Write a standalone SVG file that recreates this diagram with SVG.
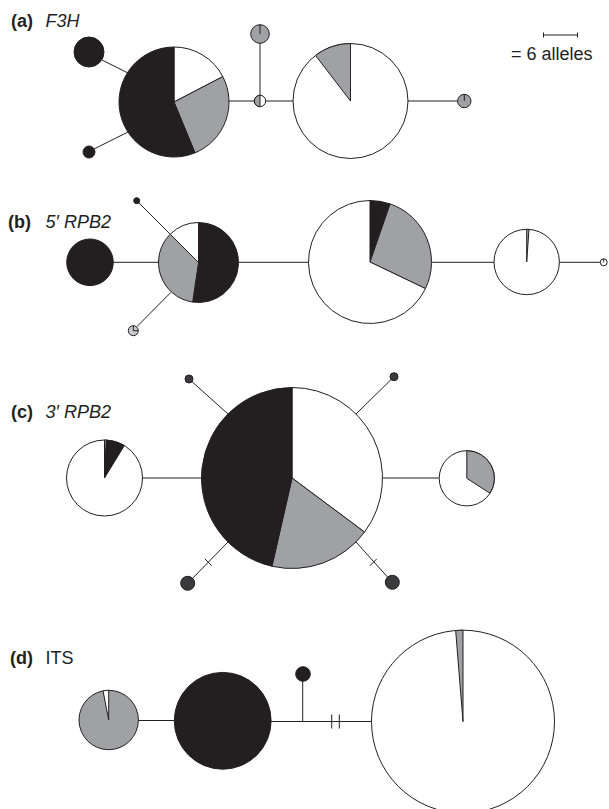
<svg xmlns="http://www.w3.org/2000/svg" width="609" height="809" viewBox="0 0 609 809">
<style>
.ln{stroke:#231f20;stroke-width:1;fill:none}
.w{fill:#ffffff;stroke:#231f20;stroke-width:1}
.k{fill:#231f20;stroke:#231f20;stroke-width:1}
.g{fill:#a0a1a4;stroke:#231f20;stroke-width:1}
.lg{fill:#c8c9cb;stroke:#231f20;stroke-width:1}
.dk{fill:#3a3a3c;stroke:#231f20;stroke-width:1}
.lab{font-family:"Liberation Sans",Arial,sans-serif;font-size:18px;fill:#231f20}
.b{font-weight:bold}
.i{font-style:italic}
</style>
<rect width="609" height="809" fill="#ffffff"/>
<g id="labels">
<text class="lab b" x="11" y="27">(a)</text><text class="lab i" x="45.5" y="27">F3H</text>
<text class="lab b" x="8" y="228">(b)</text><text class="lab i" x="45.5" y="228">5′ RPB2</text>
<text class="lab b" x="11" y="418">(c)</text><text class="lab i" x="45.5" y="418">3′ RPB2</text>
<text class="lab b" x="10" y="664">(d)</text><text class="lab" x="45.5" y="664">ITS</text>
</g>
<g id="scale">
<line class="ln" x1="543.5" y1="35" x2="577.5" y2="35" stroke-width="1.6"/>
<line class="ln" x1="543.5" y1="32.5" x2="543.5" y2="37.5"/>
<line class="ln" x1="577.5" y1="32.5" x2="577.5" y2="37.5"/>
<text class="lab" x="511" y="60">= 6 alleles</text>
</g>
<g id="connectors">
<!-- a -->
<line class="ln" x1="102" y1="60" x2="128" y2="73"/>
<line class="ln" x1="94" y1="149" x2="128" y2="132"/>
<line class="ln" x1="229" y1="101" x2="254.3" y2="101"/>
<line class="ln" x1="260" y1="95.3" x2="260" y2="43.3"/>
<line class="ln" x1="265.7" y1="101" x2="293" y2="101"/>
<line class="ln" x1="408" y1="101" x2="457.6" y2="101"/>
<!-- b -->
<line class="ln" x1="113.3" y1="262.3" x2="158.5" y2="262.3"/>
<line class="ln" x1="136.7" y1="200.7" x2="170.2" y2="234.2"/>
<line class="ln" x1="137" y1="326.5" x2="171" y2="292.3"/>
<line class="ln" x1="238.5" y1="262.3" x2="308.5" y2="262.3"/>
<line class="ln" x1="431.5" y1="262.3" x2="494" y2="262.3"/>
<line class="ln" x1="559.4" y1="262.3" x2="600.2" y2="262.3"/>
<!-- c -->
<line class="ln" x1="142.5" y1="478" x2="201.5" y2="478"/>
<line class="ln" x1="189" y1="379" x2="228" y2="414"/>
<line class="ln" x1="394" y1="376.7" x2="356" y2="414"/>
<line class="ln" x1="187.7" y1="583.3" x2="228" y2="542"/>
<line class="ln" x1="204.8" y1="558.8" x2="211.8" y2="565.8"/>
<line class="ln" x1="392.3" y1="582.3" x2="356" y2="542"/>
<line class="ln" x1="369.8" y1="565.8" x2="376.8" y2="558.8"/>
<line class="ln" x1="382.5" y1="478" x2="439.2" y2="478"/>
<!-- d -->
<line class="ln" x1="138.4" y1="720.5" x2="174.3" y2="720.5"/>
<line class="ln" x1="271.1" y1="721.5" x2="371.5" y2="721.5"/>
<line class="ln" x1="302.7" y1="721.5" x2="302.7" y2="676"/>
<line class="ln" x1="331.7" y1="714.5" x2="331.7" y2="728.5"/>
<line class="ln" x1="339.3" y1="714.5" x2="339.3" y2="728.5"/>
</g>
<!-- panel a nodes -->
<g id="a_blackTop"><circle class="k" cx="89" cy="52" r="15"/></g>
<g id="a_blackBottom"><circle class="k" cx="89" cy="152" r="6"/></g>
<g id="a_main">
<path class="w" d="M174,102 L174,47 A55,55 0 0 1 222.8,76.6 Z"/>
<path class="g" d="M174,102 L222.8,76.6 A55,55 0 0 1 194.96,152.85 Z"/>
<path class="k" d="M174,102 L194.96,152.85 A55,55 0 1 1 174,47 Z"/>
</g>
<g id="a_junction">
<circle class="w" cx="260" cy="101" r="5.7"/>
<path class="g" d="M260,101 L260,95.3 A5.7,5.7 0 0 0 260,106.7 Z"/>
</g>
<g id="a_grayTop"><circle class="g" cx="260" cy="34" r="9.3"/><line class="ln" x1="260" y1="34" x2="260" y2="24.7"/></g>
<g id="a_white">
<circle class="w" cx="350.5" cy="101" r="57.5"/>
<path class="g" d="M350.5,101 L315.5,55.4 A57.5,57.5 0 0 1 350.5,43.5 Z"/>
</g>
<g id="a_grayRight"><circle class="g" cx="464.3" cy="101" r="6.7"/><line class="ln" x1="464.3" y1="101" x2="464.3" y2="94.3"/></g>
<!-- panel b nodes -->
<g id="b_black"><circle class="k" cx="90" cy="262.3" r="23.3"/></g>
<g id="b_dotTop"><circle class="k" cx="136.7" cy="200.7" r="3"/></g>
<g id="b_grayBottom"><circle class="lg" cx="133.3" cy="330.7" r="5"/><path class="ln" d="M133.3,325.7 L133.3,330.7 L138.3,330.7"/></g>
<g id="b_mixed">
<path class="k" d="M198.5,262.5 L198.5,222.5 A40,40 0 1 1 192.66,302.07 Z"/>
<path class="g" d="M198.5,262.5 L192.66,302.07 A40,40 0 0 1 170.22,234.22 Z"/>
<path class="w" d="M198.5,262.5 L170.22,234.22 A40,40 0 0 1 198.5,222.5 Z"/>
</g>
<g id="b_big">
<path class="k" d="M370,262 L370,200.5 A61.5,61.5 0 0 1 390.12,203.88 Z"/>
<path class="g" d="M370,262 L390.12,203.88 A61.5,61.5 0 0 1 425.46,288.57 Z"/>
<path class="w" d="M370,262 L425.46,288.57 A61.5,61.5 0 1 1 370,200.5 Z"/>
</g>
<g id="b_white">
<circle class="w" cx="526.7" cy="262" r="32.7"/>
<path class="g" d="M526.7,262 L526.7,229.3 A32.7,32.7 0 0 1 528.98,229.38 Z"/>
</g>
<g id="b_end"><circle class="w" cx="603.7" cy="262.3" r="3.5"/><line class="ln" x1="603.7" y1="262.3" x2="603.7" y2="258.8"/></g>
<!-- panel c nodes -->
<g id="c_white">
<circle class="w" cx="104.5" cy="478" r="38"/>
<path class="g" d="M104.5,478 L104.5,440 A38,38 0 0 1 106.49,440.05 Z"/>
<path class="k" d="M104.5,478 L106.49,440.05 A38,38 0 0 1 124.3,445.56 Z"/>
</g>
<g id="c_big">
<path class="w" d="M292,478 L292,387.5 A90.5,90.5 0 0 1 364.56,532.08 Z"/>
<path class="g" d="M292,478 L364.56,532.08 A90.5,90.5 0 0 1 271.95,566.25 Z"/>
<path class="k" d="M292,478 L271.95,566.25 A90.5,90.5 0 0 1 292,387.5 Z"/>
</g>
<g id="c_dotNW"><circle class="dk" cx="189" cy="379" r="4"/></g>
<g id="c_dotNE"><circle class="dk" cx="394" cy="376.7" r="4"/></g>
<g id="c_dotSW"><circle class="dk" cx="187.7" cy="583.3" r="7"/></g>
<g id="c_dotSE"><circle class="dk" cx="392.3" cy="582.3" r="7"/></g>
<g id="c_small">
<circle class="w" cx="466.8" cy="478.3" r="27.6"/>
<path class="g" d="M466.8,478.3 L466.8,450.7 A27.6,27.6 0 0 1 490,493.25 Z"/>
</g>
<!-- panel d nodes -->
<g id="d_gray">
<circle class="g" cx="108.7" cy="720" r="29.7"/>
<path class="w" d="M108.7,720 L103.03,690.85 A29.7,29.7 0 0 1 108.7,690.3 Z"/>
</g>
<g id="d_black"><circle class="k" cx="222.7" cy="720.8" r="48.4"/></g>
<g id="d_dot"><circle class="k" cx="303" cy="674" r="7.3"/></g>
<g id="d_white">
<circle class="w" cx="463" cy="721.7" r="91.5"/>
<path class="g" d="M463,721.7 L455.66,630.5 A91.5,91.5 0 0 1 463,630.2 Z"/>
</g>
</svg>
